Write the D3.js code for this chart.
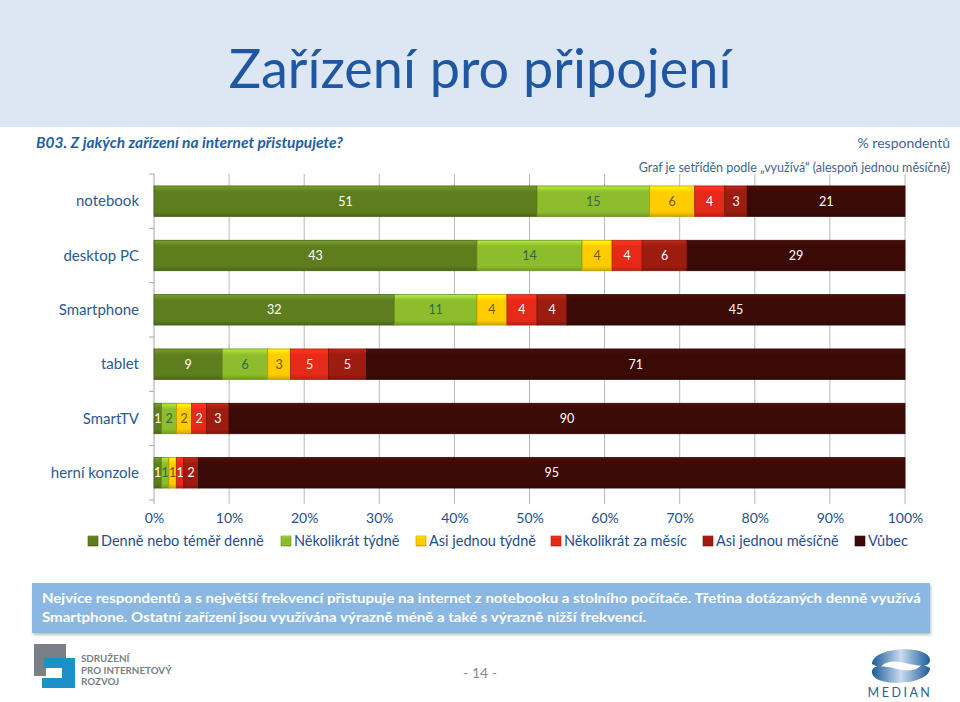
<!DOCTYPE html>
<html><head><meta charset="utf-8">
<script src="https://cdn.jsdelivr.net/npm/d3@7"></script>
<style>
html,body{margin:0;padding:0;background:#fff;}
svg{display:block;font-family:Lato,"Open Sans",sans-serif;}
</style></head>
<body>
<svg id="chart" width="960" height="702"></svg>
<script>
// ---- data ----
const categories = ["notebook","desktop PC","Smartphone","tablet","SmartTV","herní konzole"];
const seriesNames = ["Denně nebo téměř denně","Několikrát týdně","Asi jednou týdně","Několikrát za měsíc","Asi jednou měsíčně","Vůbec"];
const denne       = [51,43,32,9,1,1];
const nekolikTyd  = [15,14,11,6,2,1];
const jednouTyd   = [6,4,4,3,2,1];
const nekolikMes  = [4,4,4,5,2,1];
const jednouMes   = [3,6,4,5,3,2];
const vubec       = [21,29,45,71,90,95];
const tickLabels  = ["0%","10%","20%","30%","40%","50%","60%","70%","80%","90%","100%"];
const colors      = ["#5e7e1e","#8dbd2c","#ffcc00","#e52a18","#9c1c10","#3c0a06"];
const labelColors = ["#ffffff","#2a6a52","#6b5a00","#ffffff","#ffffff","#ffffff"];

const seriesValues = [denne,nekolikTyd,jednouTyd,nekolikMes,jednouMes,vubec];

const svg = d3.select("#chart");
const defs = svg.append("defs");

// header band
svg.append("rect").attr("x",0).attr("y",0).attr("width",960).attr("height",127).attr("fill","#dce7f3");
svg.append("text").attr("x",480).attr("y",88).attr("text-anchor","middle")
  .attr("font-size",54).attr("fill","#1f57a3").attr("font-family","Lato, 'Open Sans', sans-serif")
  .text("Zařízení pro připojení");

svg.append("text").attr("x",36).attr("y",148).attr("font-size",15.5).attr("font-weight","bold")
  .attr("font-style","italic").attr("fill","#1f5fa6").text("B03. Z jakých zařízení na internet přistupujete?");
svg.append("text").attr("x",950).attr("y",148).attr("text-anchor","end").attr("font-size",14)
  .attr("fill","#3f6690").text("% respondentů");
svg.append("text").attr("x",950).attr("y",172).attr("text-anchor","end").attr("font-size",12.5)
  .attr("fill","#3f6690").text("Graf je setříděn podle „využívá“ (alespoň jednou měsíčně)");

// gradients for bevel look
colors.forEach((c,i)=>{
  const g = defs.append("linearGradient").attr("id","g"+i).attr("x1",0).attr("y1",0).attr("x2",0).attr("y2",1);
  const base = d3.color(c);
  g.append("stop").attr("offset","0%").attr("stop-color",d3.color(c).brighter(0.7));
  g.append("stop").attr("offset","12%").attr("stop-color",d3.color(c).brighter(0.25));
  g.append("stop").attr("offset","20%").attr("stop-color",base);
  g.append("stop").attr("offset","85%").attr("stop-color",base);
  g.append("stop").attr("offset","100%").attr("stop-color",d3.color(c).darker(0.6));
});

const margin = {left:154, right:905, top:174, bottom:500};
const x = d3.scaleLinear().domain([0,100]).range([margin.left, margin.right]);
const y = d3.scaleBand().domain(categories).range([margin.top, margin.bottom]).paddingInner(0.44).paddingOuter(0.22);

// gridlines
const gridTicks = d3.range(0,101,10);
svg.append("g").selectAll("line").data(gridTicks.slice(1)).join("line")
  .attr("x1",d=>x(d)).attr("x2",d=>x(d)).attr("y1",margin.top).attr("y2",margin.bottom+4)
  .attr("stroke","#b8b8b8").attr("stroke-width",1);

// left axis line and category ticks
svg.append("line").attr("x1",x(0)).attr("x2",x(0)).attr("y1",margin.top).attr("y2",margin.bottom+4)
  .attr("stroke","#a6a6a6");
const bandStep = (margin.bottom - margin.top)/categories.length;
svg.append("g").selectAll("line").data(d3.range(categories.length+1)).join("line")
  .attr("x1",x(0)-5).attr("x2",x(0)).attr("y1",d=>margin.top+d*bandStep).attr("y2",d=>margin.top+d*bandStep)
  .attr("stroke","#a6a6a6");

// x axis labels
const xAxis = d3.axisBottom(x).tickValues(gridTicks).tickFormat((d,i)=>tickLabels[i]).tickSize(0).tickPadding(0);
const gx = svg.append("g").attr("transform",`translate(0,${margin.bottom+23})`).call(xAxis);
gx.select(".domain").remove();
gx.selectAll("text").attr("font-size",14).attr("fill","#1f4e8c").attr("font-family","Lato, 'Open Sans', sans-serif").attr("dy","0");

// category labels
svg.append("g").selectAll("text").data(categories).join("text")
  .attr("x",139).attr("y",d=>y(d)+y.bandwidth()/2+5).attr("text-anchor","end")
  .attr("font-size",15).attr("fill","#2a5a94").text(d=>d);

// stacked bars (100% normalized)
const rows = categories.map((c,ci)=>{
  const vals = seriesValues.map(s=>s[ci]);
  const total = d3.sum(vals);
  let cum = 0;
  return vals.map((v,si)=>{ const s = cum/total*100; cum += v; return {cat:c, si, v, x0:s, x1:cum/total*100}; });
});
const segs = rows.flat();
const gb = svg.append("g");
gb.selectAll("rect").data(segs).join("rect")
  .attr("x",d=>x(d.x0)).attr("y",d=>y(d.cat)).attr("width",d=>x(d.x1)-x(d.x0)).attr("height",y.bandwidth())
  .attr("fill",d=>`url(#g${d.si})`).attr("stroke",d=>d3.color(colors[d.si]).darker(0.8)).attr("stroke-width",0.8);
gb.selectAll("text").data(segs).join("text")
  .attr("x",d=>(x(d.x0)+x(d.x1))/2).attr("y",d=>y(d.cat)+y.bandwidth()/2+4.5)
  .attr("text-anchor","middle").attr("font-size",12.5).attr("fill",d=>labelColors[d.si]).text(d=>d.v);

// legend
const legendX = [88,281,416,551,703,855];
const lg = svg.append("g").selectAll("g").data(seriesNames).join("g")
  .attr("transform",(d,i)=>`translate(${legendX[i]},536)`);
lg.append("rect").attr("width",10).attr("height",10).attr("fill",(d,i)=>`url(#g${i})`)
  .attr("stroke",(d,i)=>d3.color(colors[i]).darker(0.8)).attr("stroke-width",0.6);
lg.append("text").attr("x",13).attr("y",10).attr("font-size",14.5).attr("fill","#1f4e8c").text(d=>d);

// bottom box
defs.append("filter").attr("id","sh").html('<feDropShadow dx="1" dy="2" stdDeviation="1.5" flood-color="#000" flood-opacity="0.25"/>');
svg.append("rect").attr("x",32).attr("y",583).attr("width",898).attr("height",50).attr("fill","#8bb8e2").attr("filter","url(#sh)");
svg.append("text").attr("x",42).attr("y",603).attr("font-size",14).attr("font-weight","bold").attr("fill","#fff")
  .attr("textLength",879).attr("lengthAdjust","spacingAndGlyphs")
  .text("Nejvíce respondentů a s největší frekvencí přistupuje na internet z notebooku a stolního počítače. Třetina dotázaných denně využívá");
svg.append("text").attr("x",42).attr("y",622).attr("font-size",14).attr("font-weight","bold").attr("fill","#fff")
  .attr("textLength",604).attr("lengthAdjust","spacingAndGlyphs")
  .text("Smartphone. Ostatní zařízení  jsou využívána výrazně méně a také s výrazně nižší frekvencí.");

// left logo
const logo = svg.append("g");
logo.append("path").attr("d","M34,644 H66 V656 H46 V676 H34 Z").attr("fill","#7a7f86");
logo.append("path").attr("d","M44,658 H75 V688 H42 V678 H62 V668 H44 Z").attr("fill","#1d8fc9");
logo.append("rect").attr("x",46).attr("y",656).attr("width",20).attr("height",2).attr("fill","#7a7f86");
["SDRUŽENÍ","PRO INTERNETOVÝ","ROZVOJ"].forEach((t,i)=>{
  svg.append("text").attr("x",81).attr("y",662+i*11.5).attr("font-size",9.8).attr("font-weight","bold")
    .attr("fill","#7a7f86").text(t);
});

// page number
svg.append("text").attr("x",480).attr("y",678).attr("text-anchor","middle").attr("font-size",14)
  .attr("fill","#8a8a8a").text("- 14 -");

// MEDIAN logo
const mg = defs.append("linearGradient").attr("id","mg").attr("x1",0).attr("y1",0).attr("x2",1).attr("y2",0);
mg.append("stop").attr("offset","0%").attr("stop-color","#1c5c98");
mg.append("stop").attr("offset","50%").attr("stop-color","#c9dcef");
mg.append("stop").attr("offset","100%").attr("stop-color","#1c5c98");
svg.append("path").attr("d","M872,664 C872,646 930,644 930,660 C930,668 918,666 905,663 C892,660 884,662 880,668 Z").attr("fill","url(#mg)");
svg.append("path").attr("d","M930,668 C930,686 872,688 872,672 C872,664 884,666 897,669 C910,672 918,670 922,664 Z").attr("fill","url(#mg)");
svg.append("text").attr("x",900).attr("y",697).attr("text-anchor","middle").attr("font-size",12.5)
  .attr("letter-spacing",2.5).attr("fill","#2d5f8f").text("MEDIAN");
</script>
</body></html>
